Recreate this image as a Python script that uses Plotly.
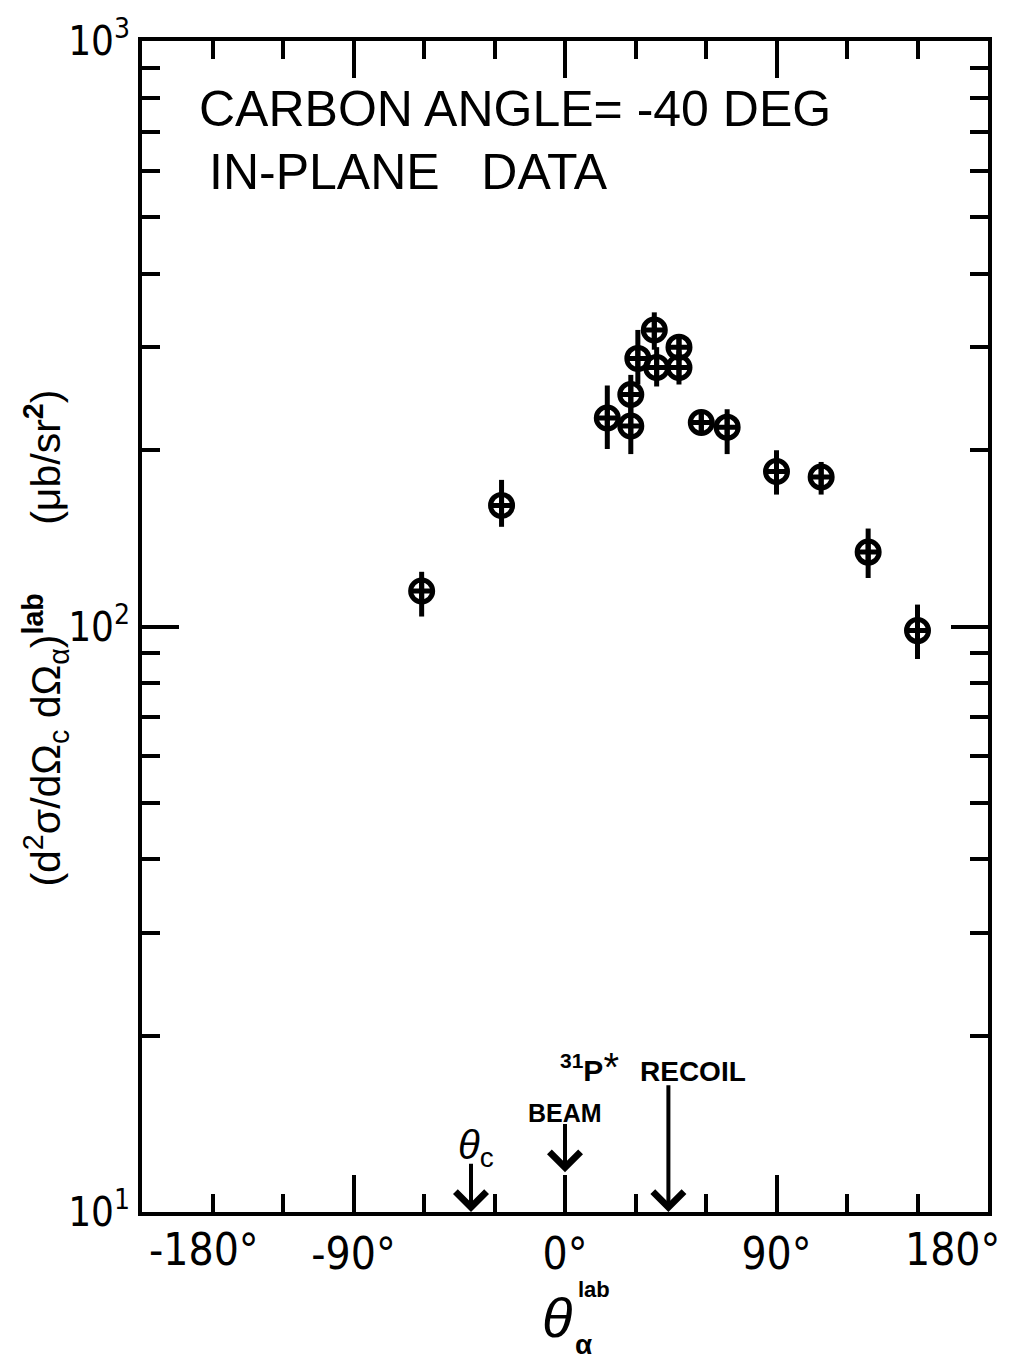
import plotly.graph_objects as go

# ---- data ----
theta_alpha = [-61, -27, 18, 28, 28, 31, 38, 39, 48.5, 48.5, 58, 69, 90, 109, 129, 150]
sigma = [115, 161, 227, 220, 249, 287, 321, 277, 300, 277, 223, 219, 184, 180, 134, 98.4]
sigma_hi = [124, 178, 258, 239, 269, 321, 344, 300, 314, 295, 232, 235, 200, 191, 147, 109]
sigma_lo = [104, 148, 201, 197, 230, 259, 297, 257, 287, 259, 214, 197, 168, 168, 121, 88]

x_tickvals = [-180, -90, 0, 90, 180]
x_ticktext = ["", "-90°", "0°", "90°", ""]
x_edge_labels = ["-180°", "180°"]
y_tickvals = [10, 100, 1000]
y_ticktext = ["10<sup>1</sup>", "10<sup>2</sup>", "10<sup>3</sup>"]
y_minor = [20, 30, 40, 50, 60, 70, 80, 90, 200, 300, 400, 500, 600, 700, 800, 900]

theta_c = -40
theta_beam = 0
theta_recoil = 44

err_plus = [h - v for h, v in zip(sigma_hi, sigma)]
err_minus = [v - l for v, l in zip(sigma, sigma_lo)]

FONT = "Liberation Sans, Arial, sans-serif"
NARROW = "Liberation Sans Narrow, DejaVu Sans Condensed, Liberation Sans, sans-serif"

fig = go.Figure()
fig.add_trace(go.Scatter(
    x=theta_alpha, y=sigma, mode="markers",
    marker=dict(symbol="circle-cross-open", size=22, color="black",
                line=dict(width=5, color="black")),
    error_y=dict(type="data", symmetric=False, array=err_plus, arrayminus=err_minus,
                 thickness=5, width=0, color="black"),
    showlegend=False,
))

fig.update_layout(
    width=1019, height=1359,
    margin=dict(l=142, r=31, t=34, b=147),
    paper_bgcolor="white", plot_bgcolor="white",
    font=dict(family=FONT, color="black"),
)

fig.update_xaxes(
    range=[-180, 180], showgrid=False, zeroline=False,
    showline=True, linewidth=4, linecolor="black", mirror="ticks",
    ticks="inside", ticklen=37, tickwidth=3.5, tickcolor="black",
    tickmode="array", tickvals=x_tickvals, ticktext=x_ticktext,
    tickfont=dict(family=NARROW, size=44, color="black"),
    ticklabelstandoff=0,
    minor=dict(tickmode="linear", tick0=0, dtick=30, ticks="inside",
               ticklen=18, tickwidth=3.5, tickcolor="black"),
)
fig.update_yaxes(
    type="log", range=[1, 3], showgrid=False, zeroline=False,
    showline=True, linewidth=4, linecolor="black", mirror="ticks",
    ticks="inside", ticklen=37, tickwidth=3.5, tickcolor="black",
    tickmode="array", tickvals=y_tickvals, ticktext=y_ticktext,
    tickfont=dict(family=NARROW, size=40, color="black"),
    minor=dict(tickmode="array", tickvals=y_minor, ticks="inside",
               ticklen=18, tickwidth=3.5, tickcolor="black"),
)

ann = []
# edge tick labels, drawn inward as in the reference
ann.append(dict(text=x_edge_labels[0], xref="x", yref="paper", x=x_tickvals[0], y=-0.0323,
                xanchor="left", yanchor="middle", xshift=5, showarrow=False,
                font=dict(family=NARROW, size=44)))
ann.append(dict(text=x_edge_labels[1], xref="x", yref="paper", x=x_tickvals[-1], y=-0.0323,
                xanchor="right", yanchor="middle", xshift=14, showarrow=False,
                font=dict(family=NARROW, size=44)))

ann.append(dict(text="CARBON ANGLE= -40 DEG", xref="paper", yref="paper",
                x=0.065, y=0.942, xanchor="left", yanchor="middle",
                showarrow=False, font=dict(size=50)))
ann.append(dict(text="IN-PLANE   DATA", xref="paper", yref="paper",
                x=0.077, y=0.888, xanchor="left", yanchor="middle",
                showarrow=False, font=dict(size=50)))
# y-axis title
ann.append(dict(text="(d<sup>2</sup>σ/dΩ<sub>c</sub> dΩ<sub>α</sub>)<sup><b>lab</b></sup>      (μb/sr<sup><b>2</b></sup>)",
                xref="paper", yref="paper", x=-0.113, y=0.49,
                xanchor="center", yanchor="middle", textangle=-90,
                showarrow=False, font=dict(size=41)))
# x-axis title
ann.append(dict(text="<i>θ</i>", xref="paper", yref="paper", x=0.4905, y=-0.09,
                xanchor="center", yanchor="middle", showarrow=False,
                font=dict(size=56)))
ann.append(dict(text="<b>lab</b>", xref="paper", yref="paper", x=0.513, y=-0.066,
                xanchor="left", yanchor="middle", showarrow=False,
                font=dict(size=22)))
ann.append(dict(text="<b>α</b>", xref="paper", yref="paper", x=0.510, y=-0.113,
                xanchor="left", yanchor="middle", showarrow=False,
                font=dict(size=28)))

# arrows (log-axis annotation coordinates are log10 values)
ann.append(dict(x=theta_c, y=1.0, ax=theta_c, ay=1.085, xref="x", yref="y",
                axref="x", ayref="y", text="", showarrow=True, arrowhead=4,
                arrowsize=1.5, arrowwidth=4, arrowcolor="black"))
ann.append(dict(x=theta_beam, y=1.068, ax=theta_beam, ay=1.153, xref="x", yref="y",
                axref="x", ayref="y", text="", showarrow=True, arrowhead=4,
                arrowsize=1.5, arrowwidth=4, arrowcolor="black"))
ann.append(dict(x=theta_recoil, y=1.0, ax=theta_recoil, ay=1.219, xref="x", yref="y",
                axref="x", ayref="y", text="", showarrow=True, arrowhead=4,
                arrowsize=1.5, arrowwidth=4, arrowcolor="black"))

ann.append(dict(text="<i>θ</i><sub>c</sub>", xref="x", yref="paper",
                x=theta_c + 2, y=0.0543, xanchor="center", yanchor="middle",
                showarrow=False, font=dict(size=40)))
ann.append(dict(text="<b>BEAM</b>", xref="x", yref="paper",
                x=theta_beam, y=0.0849, xanchor="center", yanchor="middle",
                showarrow=False, font=dict(size=25)))
ann.append(dict(text="<b><sup>31</sup>P</b><span style='font-size:40px'>*</span>", xref="x", yref="paper",
                x=theta_beam + 10.6, y=0.124, xanchor="center", yanchor="middle",
                showarrow=False, font=dict(size=30)))
ann.append(dict(text="<b>RECOIL</b>", xref="x", yref="paper",
                x=theta_recoil + 10.5, y=0.1197, xanchor="center", yanchor="middle",
                showarrow=False, font=dict(size=28)))

fig.update_layout(annotations=ann)
fig.write_html("out.html")
